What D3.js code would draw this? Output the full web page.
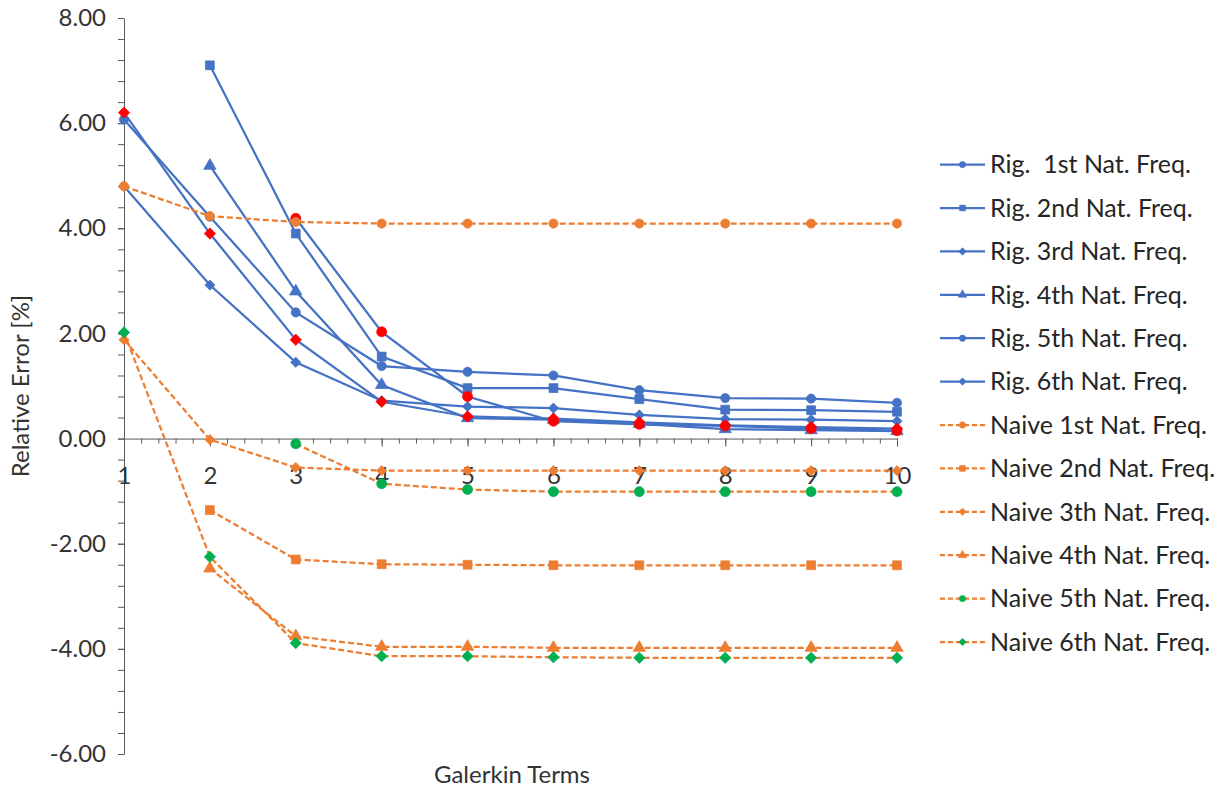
<!DOCTYPE html>
<html>
<head>
<meta charset="utf-8">
<script src="https://cdnjs.cloudflare.com/ajax/libs/d3/7.8.5/d3.min.js"></script>
<style>
    body { margin: 0; background: #fff; }
    text { font-family: Lato, "Open Sans", sans-serif; white-space: pre; }
</style>
</head>
<body>
<svg id="chart" width="1225" height="790"></svg>
<script>
let terms = [1, 2, 3, 4, 5, 6, 7, 8, 9, 10];

let rig1 = [6.07, 4.22, 2.40, 1.38, 1.27, 1.20, 0.92, 0.77, 0.76, 0.68];
let rig2 = [null, 7.10, 3.90, 1.56, 0.96, 0.96, 0.75, 0.55, 0.54, 0.51];
let rig3 = [4.80, 2.92, 1.45, 0.72, 0.61, 0.58, 0.45, 0.37, 0.36, 0.33];
let rig4 = [null, 5.19, 2.80, 1.02, 0.39, 0.36, 0.28, 0.18, 0.16, 0.14];
let rig5 = [null, null, 4.19, 2.03, 0.80, 0.33, 0.27, 0.24, 0.19, 0.15];
let rig6 = [6.20, 3.90, 1.88, 0.70, 0.42, 0.38, 0.31, 0.25, 0.22, 0.19];

let naive1 = [4.80, 4.23, 4.12, 4.09, 4.09, 4.09, 4.09, 4.09, 4.09, 4.09];
let naive2 = [null, -1.36, -2.30, -2.39, -2.40, -2.41, -2.41, -2.41, -2.41, -2.41];
let naive3 = [1.88, -0.02, -0.55, -0.61, -0.61, -0.61, -0.61, -0.61, -0.61, -0.61];
let naive4 = [null, -2.47, -3.76, -3.96, -3.96, -3.98, -3.98, -3.98, -3.98, -3.98];
let naive5 = [null, null, -0.10, -0.86, -0.97, -1.01, -1.01, -1.01, -1.01, -1.01];
let naive6 = [2.02, -2.25, -3.89, -4.14, -4.14, -4.16, -4.17, -4.17, -4.17, -4.17];

let yTicks = [-6, -4, -2, 0, 2, 4, 6, 8];

let names = ['Rig.  1st Nat. Freq.', 'Rig. 2nd Nat. Freq.', 'Rig. 3rd Nat. Freq.',
    'Rig. 4th Nat. Freq.', 'Rig. 5th Nat. Freq.', 'Rig. 6th Nat. Freq.',
    'Naive 1st Nat. Freq.', 'Naive 2nd Nat. Freq.', 'Naive 3th Nat. Freq.',
    'Naive 4th Nat. Freq.', 'Naive 5th Nat. Freq.', 'Naive 6th Nat. Freq.'];

let blue = '#4472C4', orange = '#ED7D31', red = '#FF0000', green = '#00B050';

// diamond as a square turned 45 degrees (excel style)
let symbolRhomb = {
    draw: function (ctx, size) {
        let r = Math.sqrt(size / 2);
        ctx.moveTo(0, -r);
        ctx.lineTo(r, 0);
        ctx.lineTo(0, r);
        ctx.lineTo(-r, 0);
        ctx.closePath();
    }
};
let shapes = [d3.symbolCircle, d3.symbolSquare, symbolRhomb, d3.symbolTriangle, d3.symbolCircle, symbolRhomb];
let plotSizes = [66, 78, 52, 66, 78, 64];
let legendSizes = [32, 34, 28, 32, 32, 28];

let series = [rig1, rig2, rig3, rig4, rig5, rig6, naive1, naive2, naive3, naive4, naive5, naive6]
    .map(function (vals, i) {
        let k = i % 6;
        let naive = i >= 6;
        let markColor = k >= 4 ? (naive ? green : red) : (naive ? orange : blue);
        return {
            name: names[i],
            values: vals.map(function (v, j) { return {t: terms[j], v: v}; }),
            color: naive ? orange : blue,
            dash: naive ? '6,3' : null,
            shape: shapes[k],
            size: plotSizes[k],
            legendSize: legendSizes[k],
            markColor: markColor,
            legendColor: naive ? (k >= 4 ? green : orange) : blue
        };
    });

let svg = d3.select('#chart');

let x = d3.scaleLinear().domain([1, 10]).range([124, 897]);
let y = d3.scaleLinear().domain([-6, 8]).range([754, 18]);

let axisColor = '#595959';
let textColor = '#333333';

// y axis: minor ticks then major with labels
let yMinor = d3.range(0, 36).map(function (i) { return -6 + i * 0.4; });
svg.append('g').attr('transform', 'translate(' + x(1) + ',0)')
    .call(d3.axisLeft(y).tickValues(yMinor).tickSize(6).tickSizeOuter(0).tickFormat(''))
    .call(function (g) { g.select('.domain').remove(); })
    .selectAll('line').attr('stroke', axisColor);

let yAxis = svg.append('g').attr('transform', 'translate(' + x(1) + ',0)')
    .call(d3.axisLeft(y).tickValues(yTicks).tickSize(6).tickSizeOuter(0).tickPadding(12)
        .tickFormat(function (d) { return d.toFixed(2); }));
yAxis.select('.domain').attr('stroke', axisColor);
yAxis.selectAll('line').attr('stroke', axisColor);
yAxis.selectAll('text').attr('font-family', 'Lato').attr('font-size', 24).attr('fill', textColor);

// x axis sits on y = 0
let xMinor = d3.range(0, 46).map(function (i) { return 1 + i * 0.2; });
svg.append('g').attr('transform', 'translate(0,' + y(0) + ')')
    .call(d3.axisBottom(x).tickValues(xMinor).tickSize(5).tickSizeOuter(0).tickFormat(''))
    .call(function (g) { g.select('.domain').remove(); })
    .selectAll('line').attr('stroke', axisColor);

let xAxis = svg.append('g').attr('transform', 'translate(0,' + y(0) + ')')
    .call(d3.axisBottom(x).tickValues(terms).tickSize(8).tickSizeOuter(0).tickPadding(20));
xAxis.select('.domain').attr('stroke', axisColor);
xAxis.selectAll('line').attr('stroke', axisColor);
xAxis.selectAll('text').attr('font-family', 'Lato').attr('font-size', 24).attr('fill', textColor);

// axis titles
svg.append('text')
    .attr('x', 512).attr('y', 783)
    .attr('text-anchor', 'middle')
    .attr('font-size', 24)
    .attr('fill', textColor)
    .text('Galerkin Terms');

svg.append('text')
    .attr('transform', 'translate(29,386) rotate(-90)')
    .attr('text-anchor', 'middle')
    .attr('font-size', 24)
    .attr('fill', textColor)
    .text('Relative Error [%]');

// lines and markers
let line = d3.line()
    .defined(function (d) { return d.v !== null; })
    .x(function (d) { return x(d.t); })
    .y(function (d) { return y(d.v); });

let groups = svg.selectAll('.series').data(series).enter().append('g').attr('class', 'series');

groups.append('path')
    .attr('fill', 'none')
    .attr('stroke', function (d) { return d.color; })
    .attr('stroke-width', 2.25)
    .attr('stroke-dasharray', function (d) { return d.dash; })
    .attr('d', function (d) { return line(d.values); });

groups.each(function (s) {
    d3.select(this).selectAll('.mark')
        .data(s.values.filter(function (d) { return d.v !== null; }))
        .enter().append('path')
        .attr('class', 'mark')
        .attr('transform', function (d) { return 'translate(' + x(d.t) + ',' + y(d.v) + ')'; })
        .attr('d', d3.symbol().type(s.shape).size(s.size))
        .attr('fill', s.markColor)
        .attr('stroke', s.markColor)
        .attr('stroke-width', 0.75);
});

// legend
let legendTop = 164.6;
let legendStep = 43.4;
let legend = svg.selectAll('.legend').data(series).enter().append('g')
    .attr('class', 'legend')
    .attr('transform', function (d, i) { return 'translate(940,' + (legendTop + i * legendStep) + ')'; });

legend.append('line')
    .attr('x1', 0).attr('x2', 45)
    .attr('stroke', function (d) { return d.color; })
    .attr('stroke-width', 2.25)
    .attr('stroke-dasharray', function (d) { return d.dash ? '5,3' : null; });

legend.append('path')
    .attr('transform', 'translate(22.5,0)')
    .attr('d', function (d) { return d3.symbol().type(d.shape).size(d.legendSize)(); })
    .attr('fill', function (d) { return d.legendColor; })
    .attr('stroke', function (d) { return d.legendColor; })
    .attr('stroke-width', 0.5);

legend.append('text')
    .attr('x', 50)
    .attr('dy', '0.35em')
    .attr('font-size', 25)
    .attr('fill', '#262626')
    .text(function (d) { return d.name; });
</script>
</body>
</html>
